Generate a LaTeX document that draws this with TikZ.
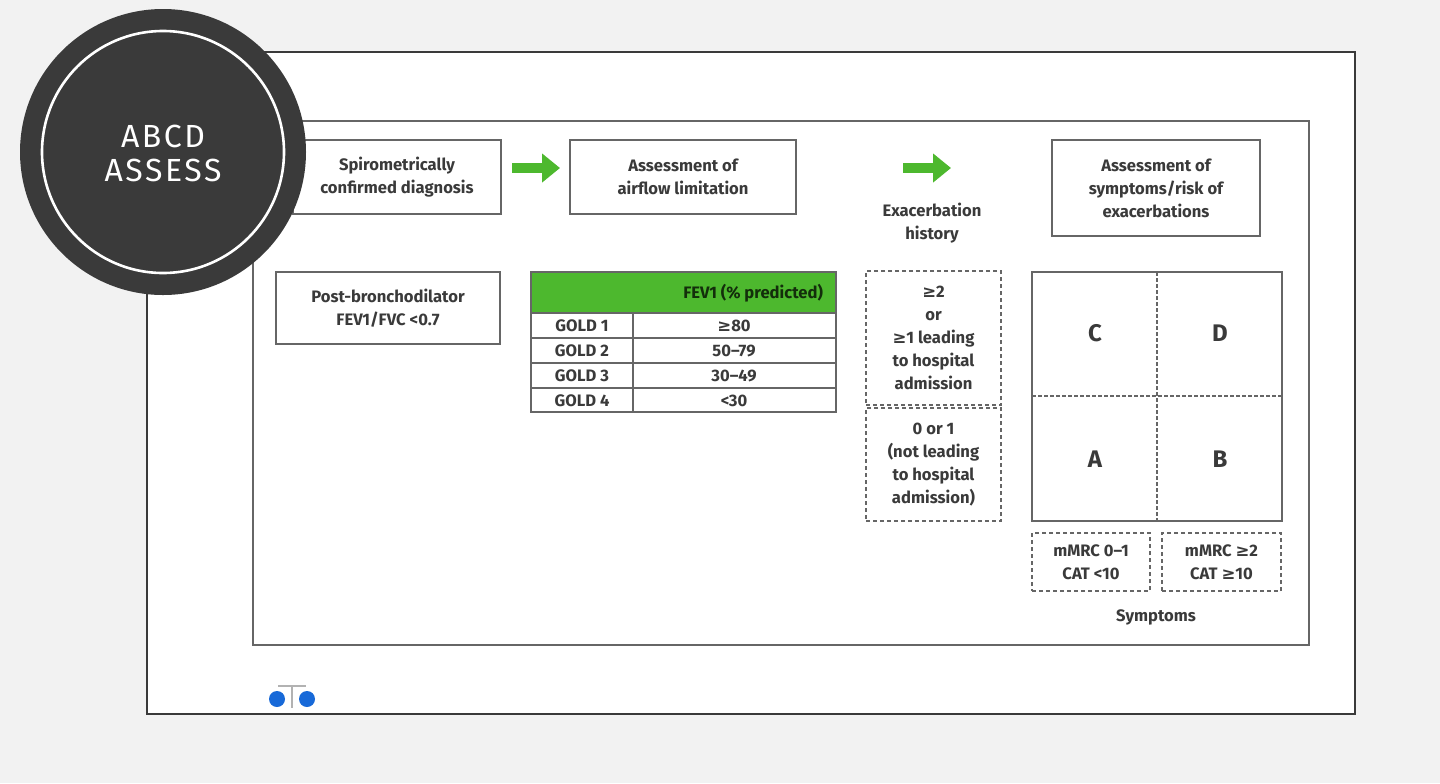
\documentclass[tikz,border=0pt]{standalone}
\usepackage{fontspec}
\setmainfont{Fira Sans}
\newfontfamily\symf{DejaVu Sans}
\usetikzlibrary{arrows.meta}
\definecolor{bg}{HTML}{F2F2F2}
\definecolor{dk}{HTML}{3A3A3A}
\definecolor{gr}{HTML}{4DB82E}
\definecolor{ln}{HTML}{666666}
\definecolor{tx}{HTML}{3A3A3A}
\definecolor{bl}{HTML}{1769D8}
\tikzset{
 box/.style={draw=ln,line width=1pt,fill=white,align=center,text=tx,font=\fontsize{8.3}{11.5}\selectfont\bfseries},
 dbox/.style={box,dashed,dash pattern=on 2pt off 1.5pt},
 lbl/.style={align=center,text=tx,font=\fontsize{8.3}{11.5}\selectfont\bfseries},
 big/.style={text=tx,font=\fontsize{12}{14}\selectfont\bfseries},
 garrow/.style={-{Triangle[length=9pt,width=14pt]},line width=5pt,draw=gr},
}
\begin{document}
\begin{tikzpicture}[x=0.5pt,y=-0.5pt]
\useasboundingbox (0,0) rectangle (1440,783);
\fill[bg] (0,0) rectangle (1440,783);
\draw[draw=dk,line width=1.3pt,fill=white] (147,52) rectangle (1355,714);
\draw[draw=ln,line width=0.8pt] (253,121) rectangle (1309,645);
% top boxes
\node[box,minimum width=104pt,minimum height=37pt] (b1) at (397,177) {Spirometrically\\confirmed diagnosis};
\node[box,minimum width=113pt,minimum height=37pt] (b2) at (683,177) {Assessment of\\airflow limitation};
\node[box,minimum width=104pt,minimum height=48pt] (b3) at (1156,188) {Assessment of\\symptoms/risk of\\exacerbations};
\coordinate (a1s) at (512,168); \coordinate (a1e) at (560,168);
\draw[garrow] (a1s) -- (a1e);
\coordinate (a2s) at (903,168); \coordinate (a2e) at (951,168);
\draw[garrow] (a2s) -- (a2e);
\node[lbl] (ex) at (932,223) {Exacerbation\\history};
\node[box,minimum width=112pt,minimum height=36pt] (b4) at (388,308) {Post-bronchodilator\\FEV1/FVC <0.7};
% table
\fill[gr] (531,272) rectangle (836,313);
\draw[ln,line width=0.8pt] (531,272) rectangle (836,412);
\foreach \y in {313,338,363,388} \draw[ln,line width=0.8pt] (531,\y) -- (836,\y);
\draw[ln,line width=0.8pt] (633,313) -- (633,412);
\node[lbl,text=black!75!gr,anchor=east] (th) at (830,293) {FEV1 (\% predicted)};
\foreach \i/\v [count=\k] in {1/{\symf ≥}80,2/50–79,3/30–49,4/<30}{
 \node[lbl] (g\k) at (582,300.5+25*\k) {GOLD \i};
 \node[lbl] (v\k) at (734,300.5+25*\k) {\v};
}
% exacerbation boxes
\node[dbox,minimum width=67.5pt,minimum height=67pt] (e1) at (933.5,338) {{\symf ≥}2\\or\\{\symf ≥}1 leading\\to hospital\\admission};
\node[dbox,minimum width=67.5pt,minimum height=56.5pt] (e2) at (933.5,464.5) {0 or 1\\(not leading\\to hospital\\admission)};
% grid
\draw[ln,line width=0.9pt,fill=white] (1032,272) rectangle (1282,521);
\draw[ln,line width=0.8pt,dashed,dash pattern=on 2pt off 1pt] (1157,272) -- (1157,521);
\draw[ln,line width=0.8pt,dashed,dash pattern=on 2pt off 1pt] (1032,396) -- (1282,396);
\node[big] (C) at (1095,333) {C};
\node[big] (D) at (1220,333) {D};
\node[big] (A) at (1095,459) {A};
\node[big] (B) at (1220,459) {B};
\node[dbox,minimum width=59pt,minimum height=29pt] (s1) at (1091,562) {mMRC 0–1\\CAT <10};
\node[dbox,minimum width=59.5pt,minimum height=29pt] (s2) at (1221.5,562) {mMRC {\symf ≥}2\\CAT {\symf ≥}10};
\node[lbl] (sy) at (1156,617) {Symptoms};
% circle
\fill[dk] (163,152) circle (143);
\draw[white,line width=1.3pt] (163,152) circle (121);
\node[text=white,align=center,font=\fontsize{16}{17}\selectfont\addfontfeature{LetterSpace=8}] (ab) at (163,153) {ABCD\\ASSESS};
% handles
\draw[gray!60,line width=0.8pt] (278,686) -- (306,686) (292,686) -- (292,708);
\fill[bl] (277,699) circle (8) (307,699) circle (8);
\end{tikzpicture}
\end{document}
